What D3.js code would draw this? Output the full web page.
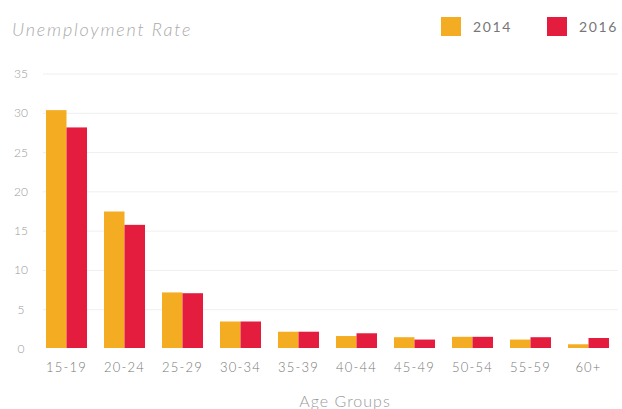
<!DOCTYPE html>
<html><head><meta charset="utf-8">
<script src="https://cdn.jsdelivr.net/npm/d3@7"></script>
<style>body{margin:0;background:#fff}svg{display:block}text{font-family:Lato,"Open Sans",sans-serif}</style>
</head><body><svg id="c" width="622" height="409"></svg>
<script>
const categories = ["15-19","20-24","25-29","30-34","35-39","40-44","45-49","50-54","55-59","60+"];
const series = ["2014","2016"];
const values2014 = [30.4,17.5,7.2,3.5,2.2,1.65,1.5,1.55,1.2,0.6];
const values2016 = [28.2,15.8,7.1,3.5,2.2,2.0,1.2,1.55,1.5,1.4];
const yTicks = [0,5,10,15,20,25,30,35];
const colors = ["#F4AC22","#E41C3E"];

const svg = d3.select("#c");
const x = d3.scaleBand().domain(categories).range([37.5,617.5]).paddingInner(0.293).paddingOuter(0.1465);
const xs = d3.scaleBand().domain(series).range([0,x.bandwidth()]);
const y = d3.scaleLinear().domain([0,35]).range([349,74]);

svg.append("g").selectAll("line").data(yTicks.filter(d=>d>0)).join("line")
  .attr("x1",43).attr("x2",618).attr("y1",d=>y(d)).attr("y2",d=>y(d))
  .attr("stroke","#efefef").attr("stroke-width",1);

svg.append("g").selectAll("text").data(yTicks).join("text")
  .attr("x",21).attr("y",d=>y(d)+4).attr("text-anchor","middle")
  .attr("font-size",12).attr("font-weight",300).attr("fill","#999").text(d=>d);

const data = categories.map((c,i)=>({c, v:[values2014[i],values2016[i]]}));
const g = svg.append("g").selectAll("g").data(data).join("g").attr("transform",d=>`translate(${x(d.c)},0)`);
g.selectAll("rect").data(d=>d.v.map((v,j)=>({s:series[j],v,j}))).join("rect")
  .attr("x",d=>xs(d.s)).attr("width",xs.bandwidth())
  .attr("y",d=>y(d.v)).attr("height",d=>y(0)-y(d.v)-1)
  .attr("fill",d=>colors[d.j]);

svg.append("g").selectAll("text").data(categories).join("text")
  .attr("x",d=>x(d)+x.bandwidth()/2).attr("y",372).attr("text-anchor","middle")
  .attr("font-size",13).attr("font-weight",300).attr("letter-spacing",1.2).attr("fill","#777").text(d=>d);

svg.append("text").attr("x",345).attr("y",407).attr("text-anchor","middle")
  .attr("font-size",16).attr("font-weight",300).attr("letter-spacing",1).attr("fill","#999").text("Age Groups");

svg.append("text").attr("x",12).attr("y",36).attr("font-size",18).attr("font-style","italic").attr("font-weight",300)
  .attr("letter-spacing",1.8).attr("fill","#aaa").text("Unemployment Rate");

const legX = [441,547];
series.forEach((s,i)=>{
  svg.append("rect").attr("x",legX[i]).attr("y",17).attr("width",20).attr("height",19).attr("fill",colors[i]);
  svg.append("text").attr("x",legX[i]+32).attr("y",32).attr("font-size",14).attr("letter-spacing",1.6)
    .attr("fill","#777").text(s);
});
</script></body></html>
